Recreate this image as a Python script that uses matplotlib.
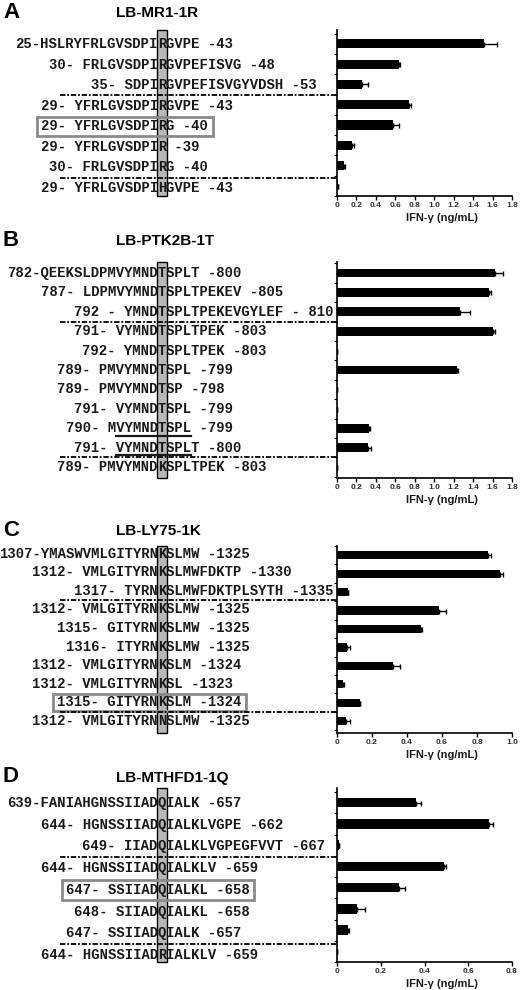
import matplotlib
matplotlib.use("Agg")
import matplotlib.pyplot as plt
from matplotlib.patches import Rectangle
from matplotlib.transforms import blended_transform_factory

# peptide rows, key residue in brackets
a_rows = ["25-HSLRYFRLGVSDPI[R]GVPE -43",
          "30- FRLGVSDPI[R]GVPEFISVG -48",
          "35- SDPI[R]GVPEFISVGYVDSH -53",
          "29- YFRLGVSDPI[R]GVPE -43",
          "29- YFRLGVSDPI[R]G -40",
          "29- YFRLGVSDPI[R] -39",
          "30- FRLGVSDPI[R]G -40",
          "29- YFRLGVSDPI[H]GVPE -43"]
a_vals = [1.51, 0.64, 0.26, 0.74, 0.58, 0.15, 0.07, 0.01]
a_errs = [0.14, 0.005, 0.06, 0.02, 0.06, 0.02, 0.01, 0.0]

b_rows = ["782-QEEKSLDPMVYMND[T]SPLT -800",
          "787- LDPMVYMND[T]SPLTPEKEV -805",
          "792 - YMND[T]SPLTPEKEVGYLEF - 810",
          "791- VYMND[T]SPLTPEK -803",
          "792- YMND[T]SPLTPEK -803",
          "789- PMVYMND[T]SPL -799",
          "789- PMVYMND[T]SP -798",
          "791- VYMND[T]SPL -799",
          "790- MVYMND[T]SPL -799",
          "791- VYMND[T]SPLT -800",
          "789- PMVYMND[K]SPLTPEK -803"]
b_vals = [1.62, 1.56, 1.27, 1.60, 0.0, 1.23, 0.0, 0.005, 0.33, 0.32, 0.0]
b_errs = [0.09, 0.02, 0.10, 0.02, 0.0, 0.01, 0.0, 0.0, 0.01, 0.03, 0.0]

c_rows = ["1307-YMASWVMLGITYRN[K]SLMW -1325",
          "1312- VMLGITYRN[K]SLMWFDKTP -1330",
          "1317- TYRN[K]SLMWFDKTPLSYTH -1335",
          "1312- VMLGITYRN[K]SLMW -1325",
          "1315- GITYRN[K]SLMW -1325",
          "1316- ITYRN[K]SLMW -1325",
          "1312- VMLGITYRN[K]SLM -1324",
          "1312- VMLGITYRN[K]SL -1323",
          "1315- GITYRN[K]SLM -1324",
          "1312- VMLGITYRN[N]SLMW -1325"]
c_vals = [0.86, 0.93, 0.06, 0.585, 0.48, 0.057, 0.32, 0.034, 0.13, 0.053]
c_errs = [0.02, 0.02, 0.0, 0.035, 0.005, 0.015, 0.04, 0.006, 0.0, 0.022]

d_rows = ["639-FANIAHGNSSIIAD[Q]IALK -657",
          "644- HGNSSIIAD[Q]IALKLVGPE -662",
          "649- IIAD[Q]IALKLVGPEGFVVT -667",
          "644- HGNSSIIAD[Q]IALKLV -659",
          "647- SSIIAD[Q]IALKL -658",
          "648- SIIAD[Q]IALKL -658",
          "647- SSIIAD[Q]IALK -657",
          "644- HGNSSIIAD[R]IALKLV -659"]
d_vals = [0.36, 0.695, 0.008, 0.49, 0.283, 0.09, 0.048, 0.0]
d_errs = [0.023, 0.018, 0.0, 0.01, 0.027, 0.037, 0.007, 0.0]

W, H = 520, 990
COL = 162      # px, centre of the grey column
CW = 8.3       # px per character
AX_L, AX_R = 337, 512
SEQ_FS = CW / 0.6 * 72 / 100

fig = plt.figure(figsize=(W / 100, H / 100), dpi=100)
fig.patch.set_facecolor("white")


def panel(letter, title, title_y, top, bottom, row0, rowN, rows, vals, errs,
          xmax, seps, boxed=None, underline=None):
    n = len(rows)
    s = (rowN - row0) / (n - 1)
    ytop = -(row0 - top) / s
    ybot = n - 1 + (bottom - rowN) / s
    hfrac = (bottom - top) / H

    axT = fig.add_axes([0, 1 - bottom / H, AX_L / W, hfrac])
    axT.set_xlim(-COL / CW, (AX_L - COL) / CW)
    axT.set_ylim(ybot, ytop)
    axT.axis("off")

    axT.add_patch(Rectangle((-0.6, ytop), 1.2, ybot - ytop, facecolor="#b8b8b8",
                            edgecolor="black", lw=1, clip_on=False, zorder=1))

    for i, r in enumerate(rows):
        pre, rest = r.split("[")
        key, post = rest.split("]")
        kw = dict(family="Liberation Mono", weight="bold", fontsize=SEQ_FS,
                  color="#1a1a1a", va="center", zorder=3)
        axT.text(-0.5, i, pre, ha="right", **kw)
        axT.text(0, i, key, ha="center", **kw)
        axT.text(0.5, i, post, ha="left", **kw)
        if boxed == i:
            axT.add_patch(Rectangle((-0.5 - len(pre) - 0.6, i - 0.45),
                                    len(pre) + len(post) + 2.2, 0.9,
                                    fill=False, edgecolor="#8a8a8a", lw=2,
                                    clip_on=False, zorder=4))
        if underline and i in underline:
            plain = pre + key + post
            st = plain.index(underline[i]) - len(pre) - 0.5
            axT.plot([st, st + len(underline[i])], [i + 0.38, i + 0.38],
                     color="#1a1a1a", lw=1.6, clip_on=False, zorder=4)

    trans = blended_transform_factory(fig.transFigure, axT.transData)
    for y in seps:
        axT.plot([60 / W, 462 / W], [y, y], transform=trans, color="black",
                 lw=1.3, linestyle=(0, (3, 1, 1, 1)), clip_on=False, zorder=5)

    axB = fig.add_axes([AX_L / W, 1 - bottom / H, (AX_R - AX_L) / W, hfrac])
    axB.barh(range(n), vals, height=0.45, color="black",
             xerr=[[0] * n, errs], error_kw=dict(ecolor="black", elinewidth=1,
                                                 capsize=1.8, capthick=1))
    axB.set_ylim(ybot, ytop)
    axB.set_xlim(0, xmax)
    ticks = [round(0.2 * k, 1) for k in range(int(round(xmax / 0.2)) + 1)]
    axB.set_xticks(ticks)
    axB.set_xticklabels(["0" if t == 0 else f"{t:.1f}" for t in ticks],
                        fontsize=6, fontweight="bold", color="#333333",
                        family="Liberation Sans")
    axB.set_yticks([])
    axB.set_yticks([k + 0.5 for k in range(-1, n)], minor=True)
    axB.tick_params(axis="y", which="minor", length=2.5, width=0.8)
    axB.tick_params(axis="x", length=3, width=1, pad=1)
    for sp in ["top", "right"]:
        axB.spines[sp].set_visible(False)
    for sp in ["left", "bottom"]:
        axB.spines[sp].set_linewidth(1.2)
    axB.set_xlabel("IFN-\u03b3 (ng/mL)", fontsize=8, fontweight="bold",
                   family="Liberation Sans", color="#1a1a1a")
    axB.xaxis.set_label_coords(0.6, -22 / (bottom - top))
    axB.xaxis.label.set_va("center")

    fig.text(3 / W, 1 - (title_y - 1) / H, letter, fontsize=16, fontweight="bold",
             family="Liberation Sans", ha="left", va="center")
    fig.text(116 / W, 1 - title_y / H, title, fontsize=11, fontweight="bold",
             family="Liberation Sans", ha="left", va="center")


panel("A", "LB-MR1-1R", 13, 30, 196, 44, 188, a_rows, a_vals, a_errs,
      1.8, [2.5, 6.5], boxed=4)
panel("B", "LB-PTK2B-1T", 241, 262, 478, 273, 467, b_rows, b_vals, b_errs,
      1.8, [2.5, 9.5], underline={8: "VYMNDTSPL", 9: "VYMNDTSPL"})
panel("C", "LB-LY75-1K", 531, 546, 733, 553.5, 721, c_rows, c_vals, c_errs,
      1.0, [2.5, 8.5], boxed=8)
panel("D", "LB-MTHFD1-1Q", 778, 788, 962, 803, 955, d_rows, d_vals, d_errs,
      0.8, [2.5, 6.5], boxed=4)

fig.savefig("out.png", dpi=100, facecolor="white")
